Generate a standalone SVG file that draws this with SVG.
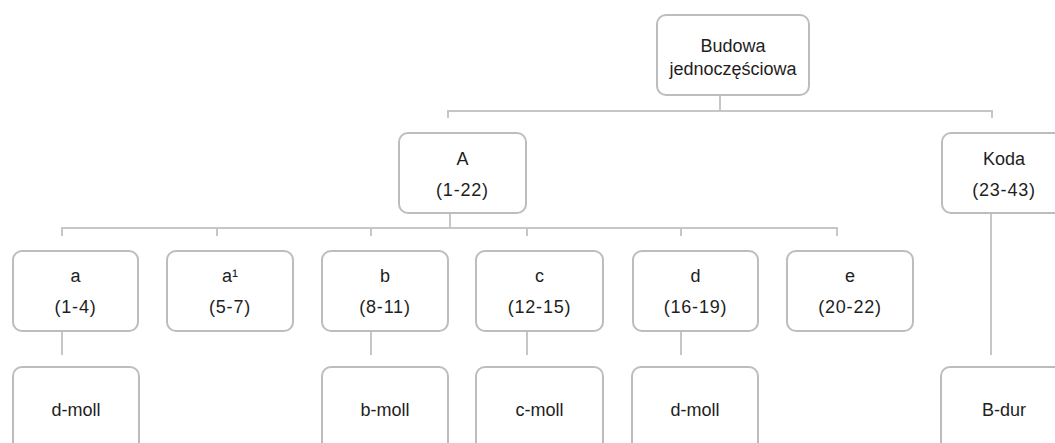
<svg xmlns="http://www.w3.org/2000/svg" width="1055" height="443" viewBox="0 0 1055 443">
  <style>
    .box { fill: #ffffff; stroke: #bdbdbd; stroke-width: 2; }
    .link { fill: none; stroke: #c6c6c6; stroke-width: 2; }
    .t { font-family: "Liberation Sans", Arial, Helvetica, sans-serif; font-size: 18px; fill: #1e1e1e; text-anchor: middle; }
    .n { letter-spacing: 0.8px; }
  </style>
  <rect width="1055" height="443" fill="#ffffff"/>

  <!-- connectors -->
  <g id="connectors">
    <!-- root to level 1 -->
    <path class="link" d="M720 95 V111 M448 111 H992 M448 110 V118 M992 110 V118"/>
    <!-- A to its sections -->
    <path class="link" d="M450 213 V229 M62 228 H838 M62 227 V236 M217 227 V236 M371 227 V236 M527 227 V236 M681 227 V236 M837 227 V236"/>
    <!-- sections to keys -->
    <path class="link" d="M62 331 V355 M371 331 V355 M527 331 V355 M681 331 V355 M991 213 V355"/>
  </g>

  <g id="root">
    <rect class="box" x="657" y="15" width="152" height="80" rx="9"/>
    <text class="t" x="733" y="52">Budowa</text>
    <text class="t" x="733" y="75">jednoczęściowa</text>
  </g>

  <g id="sectionA">
    <rect class="box" x="399" y="133" width="127" height="80" rx="9"/>
    <text class="t" x="462.5" y="165">A</text>
    <text class="t n" x="462.5" y="196">(1-22)</text>
  </g>

  <g id="coda">
    <rect class="box" x="942" y="133" width="125" height="80" rx="9"/>
    <text class="t" x="1004" y="165">Koda</text>
    <text class="t n" x="1004" y="196">(23-43)</text>
  </g>

  <g id="part-a">
    <rect class="box" x="13" y="251" width="125" height="80" rx="9"/>
    <text class="t" x="75.5" y="282">a</text>
    <text class="t n" x="75.5" y="313">(1-4)</text>
  </g>

  <g id="part-a1">
    <rect class="box" x="167" y="251" width="126" height="80" rx="9"/>
    <text class="t" x="230" y="282">a¹</text>
    <text class="t n" x="230" y="313">(5-7)</text>
  </g>

  <g id="part-b">
    <rect class="box" x="322" y="251" width="126" height="80" rx="9"/>
    <text class="t" x="385" y="282">b</text>
    <text class="t n" x="385" y="313">(8-11)</text>
  </g>

  <g id="part-c">
    <rect class="box" x="476" y="251" width="127" height="80" rx="9"/>
    <text class="t" x="539.5" y="282">c</text>
    <text class="t n" x="539.5" y="313">(12-15)</text>
  </g>

  <g id="part-d">
    <rect class="box" x="633" y="251" width="125" height="80" rx="9"/>
    <text class="t" x="695.5" y="282">d</text>
    <text class="t n" x="695.5" y="313">(16-19)</text>
  </g>

  <g id="part-e">
    <rect class="box" x="787" y="251" width="126" height="80" rx="9"/>
    <text class="t" x="850" y="282">e</text>
    <text class="t n" x="850" y="313">(20-22)</text>
  </g>

  <g id="key-a">
    <rect class="box" x="13" y="367" width="126" height="90" rx="9"/>
    <text class="t" x="76" y="416">d-moll</text>
  </g>

  <g id="key-b">
    <rect class="box" x="322" y="367" width="126" height="90" rx="9"/>
    <text class="t" x="385" y="416">b-moll</text>
  </g>

  <g id="key-c">
    <rect class="box" x="476" y="367" width="127" height="90" rx="9"/>
    <text class="t" x="539.5" y="416">c-moll</text>
  </g>

  <g id="key-d">
    <rect class="box" x="632" y="367" width="126" height="90" rx="9"/>
    <text class="t" x="695" y="416">d-moll</text>
  </g>

  <g id="key-coda">
    <rect class="box" x="941" y="367" width="126" height="90" rx="9"/>
    <text class="t" x="1004" y="416">B-dur</text>
  </g>
</svg>
